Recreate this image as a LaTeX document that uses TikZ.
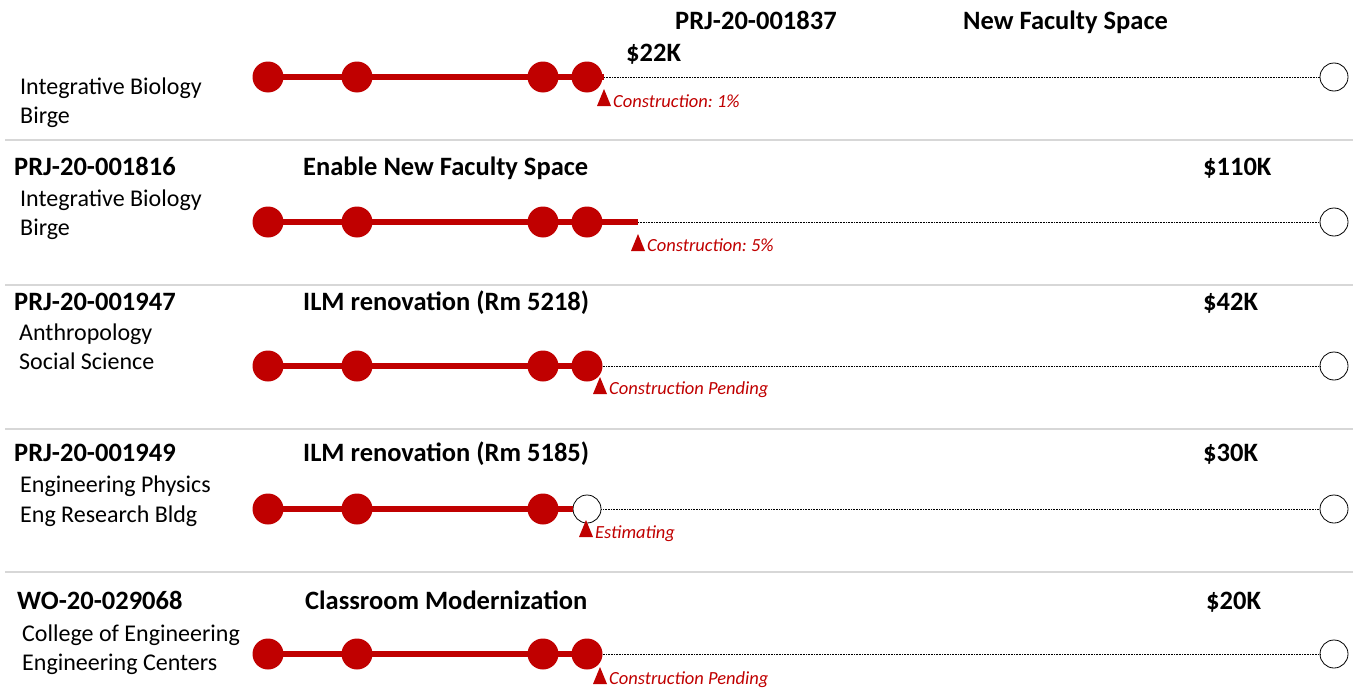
\documentclass[tikz,border=0pt]{standalone}
\usepackage{fontspec}
\setmainfont{Carlito}
\usepackage{xcolor}
\usetikzlibrary{positioning}
\frenchspacing

\definecolor{ucred}{RGB}{192,0,0}
\definecolor{rule}{RGB}{215,215,215}

\begin{document}
\begin{tikzpicture}[x=1pt, y=-1pt, >=latex]
		\tikzstyle{done} = [circle, fill=ucred, draw=none, minimum size=31pt, inner sep=0pt]
		\tikzstyle{todo} = [circle, draw=black, fill=white, line width=0.8pt, minimum size=28pt, inner sep=0pt]
		\tikzstyle{bar} = [draw=ucred, line width=5.5pt]
		\tikzstyle{rest} = [draw=black, densely dotted, line width=0.6pt]
		\tikzstyle{code} = [anchor=base west, inner sep=0pt, font=\fontsize{26.5}{30}\selectfont\bfseries]
		\tikzstyle{dept} = [anchor=base west, inner sep=0pt, font=\fontsize{24}{28}\selectfont]
		\tikzstyle{note} = [anchor=base west, inner sep=0pt, text=ucred, font=\fontsize{18.5}{22}\selectfont\itshape]
		\tikzstyle{flag} = [fill=ucred]
		\tikzstyle{sep} = [draw=rule, line width=1.5pt]
		
		\useasboundingbox (0,0) rectangle (1353,688);
		
		% row separators
		\draw[sep] (5,140) -- (1353,140);
		\draw[sep] (5,285) -- (1353,285);
		\draw[sep] (5,429) -- (1353,429);
		\draw[sep] (5,572) -- (1353,572);
		
		% PRJ-20-001837
		\node[code] 	at (675,30) 	(code1) 	{PRJ-20-001837};
		\node[code] 	at (963,30) 	(title1) 	{New Faculty Space};
		\node[code] 	at (626,61) 	(cost1) 	{\$22K};
		\node[dept] 	at (20,94) 		(dept1) 	{Integrative Biology};
		\node[dept] 	at (20,123) 	(bldg1) 	{Birge};
		\node[done] 	at (268,77) 	(a1) {};
		\node[done] 	at (357,77) 	(b1) {};
		\node[done] 	at (543,77) 	(c1) {};
		\node[done] 	at (587,77) 	(d1) {};
		\node[todo] 	at (1334,77) 	(e1) {};
		\coordinate (m1) at (604,77);
		\coordinate (f1) at (604,106);
		\draw[bar] (a1.center) -- (m1);
		\draw[rest] (m1) -- (e1);
		\fill[flag] (f1) ++(-7,0) -- ++(14,0) -- ++(-7,-17) -- cycle;
		\node[note] 	at (613,107) 	(s1) 	{Construction: 1\%};
		
		% PRJ-20-001816
		\node[code] 	at (14,175) 	(code2) 	{PRJ-20-001816};
		\node[code] 	at (303,175) 	(title2) 	{Enable New Faculty Space};
		\node[code] 	at (1203,175) 	(cost2) 	{\$110K};
		\node[dept] 	at (20,206) 	(dept2) 	{Integrative Biology};
		\node[dept] 	at (20,235) 	(bldg2) 	{Birge};
		\node[done] 	at (268,222) 	(a2) {};
		\node[done] 	at (357,222) 	(b2) {};
		\node[done] 	at (543,222) 	(c2) {};
		\node[done] 	at (587,222) 	(d2) {};
		\node[todo] 	at (1334,222) 	(e2) {};
		\coordinate (m2) at (638,222);
		\coordinate (f2) at (638,251);
		\draw[bar] (a2.center) -- (m2);
		\draw[rest] (m2) -- (e2);
		\fill[flag] (f2) ++(-7,0) -- ++(14,0) -- ++(-7,-17) -- cycle;
		\node[note] 	at (647,251) 	(s2) 	{Construction: 5\%};
		
		% PRJ-20-001947
		\node[code] 	at (14,310) 	(code3) 	{PRJ-20-001947};
		\node[code] 	at (303,310) 	(title3) 	{ILM renovation (Rm 5218)};
		\node[code] 	at (1203,310) 	(cost3) 	{\$42K};
		\node[dept] 	at (19,340) 	(dept3) 	{Anthropology};
		\node[dept] 	at (19,369) 	(bldg3) 	{Social Science};
		\node[done] 	at (268,366) 	(a3) {};
		\node[done] 	at (357,366) 	(b3) {};
		\node[done] 	at (543,366) 	(c3) {};
		\node[done] 	at (587,366) 	(d3) {};
		\node[todo] 	at (1334,366) 	(e3) {};
		\coordinate (f3) at (600,394);
		\draw[bar] (a3.center) -- (d3.center);
		\draw[rest] (d3) -- (e3);
		\fill[flag] (f3) ++(-7,0) -- ++(14,0) -- ++(-7,-17) -- cycle;
		\node[note] 	at (609,394) 	(s3) 	{Construction Pending};
		
		% PRJ-20-001949
		\node[code] 	at (14,461) 	(code4) 	{PRJ-20-001949};
		\node[code] 	at (303,461) 	(title4) 	{ILM renovation (Rm 5185)};
		\node[code] 	at (1203,461) 	(cost4) 	{\$30K};
		\node[dept] 	at (20,492) 	(dept4) 	{Engineering Physics};
		\node[dept] 	at (20,522) 	(bldg4) 	{Eng Research Bldg};
		\node[done] 	at (268,509) 	(a4) {};
		\node[done] 	at (357,509) 	(b4) {};
		\node[done] 	at (543,509) 	(c4) {};
		\node[todo] 	at (587,509) 	(d4) {};
		\node[todo] 	at (1334,509) 	(e4) {};
		\coordinate (f4) at (586,537);
		\draw[bar] (a4.center) -- (d4);
		\draw[rest] (d4) -- (e4);
		\fill[flag] (f4) ++(-7,0) -- ++(14,0) -- ++(-7,-17) -- cycle;
		\node[note] 	at (595,538) 	(s4) 	{Estimating};
		
		% WO-20-029068
		\node[code] 	at (17,609) 	(code5) 	{WO-20-029068};
		\node[code] 	at (305,609) 	(title5) 	{Classroom Modernization};
		\node[code] 	at (1206,609) 	(cost5) 	{\$20K};
		\node[dept] 	at (22,641) 	(dept5) 	{College of Engineering};
		\node[dept] 	at (22,670) 	(bldg5) 	{Engineering Centers};
		\node[done] 	at (268,654) 	(a5) {};
		\node[done] 	at (357,654) 	(b5) {};
		\node[done] 	at (543,654) 	(c5) {};
		\node[done] 	at (587,654) 	(d5) {};
		\node[todo] 	at (1334,654) 	(e5) {};
		\coordinate (f5) at (600,684);
		\draw[bar] (a5.center) -- (d5.center);
		\draw[rest] (d5) -- (e5);
		\fill[flag] (f5) ++(-7,0) -- ++(14,0) -- ++(-7,-17) -- cycle;
		\node[note] 	at (609,684) 	(s5) 	{Construction Pending};
\end{tikzpicture}
\end{document}
